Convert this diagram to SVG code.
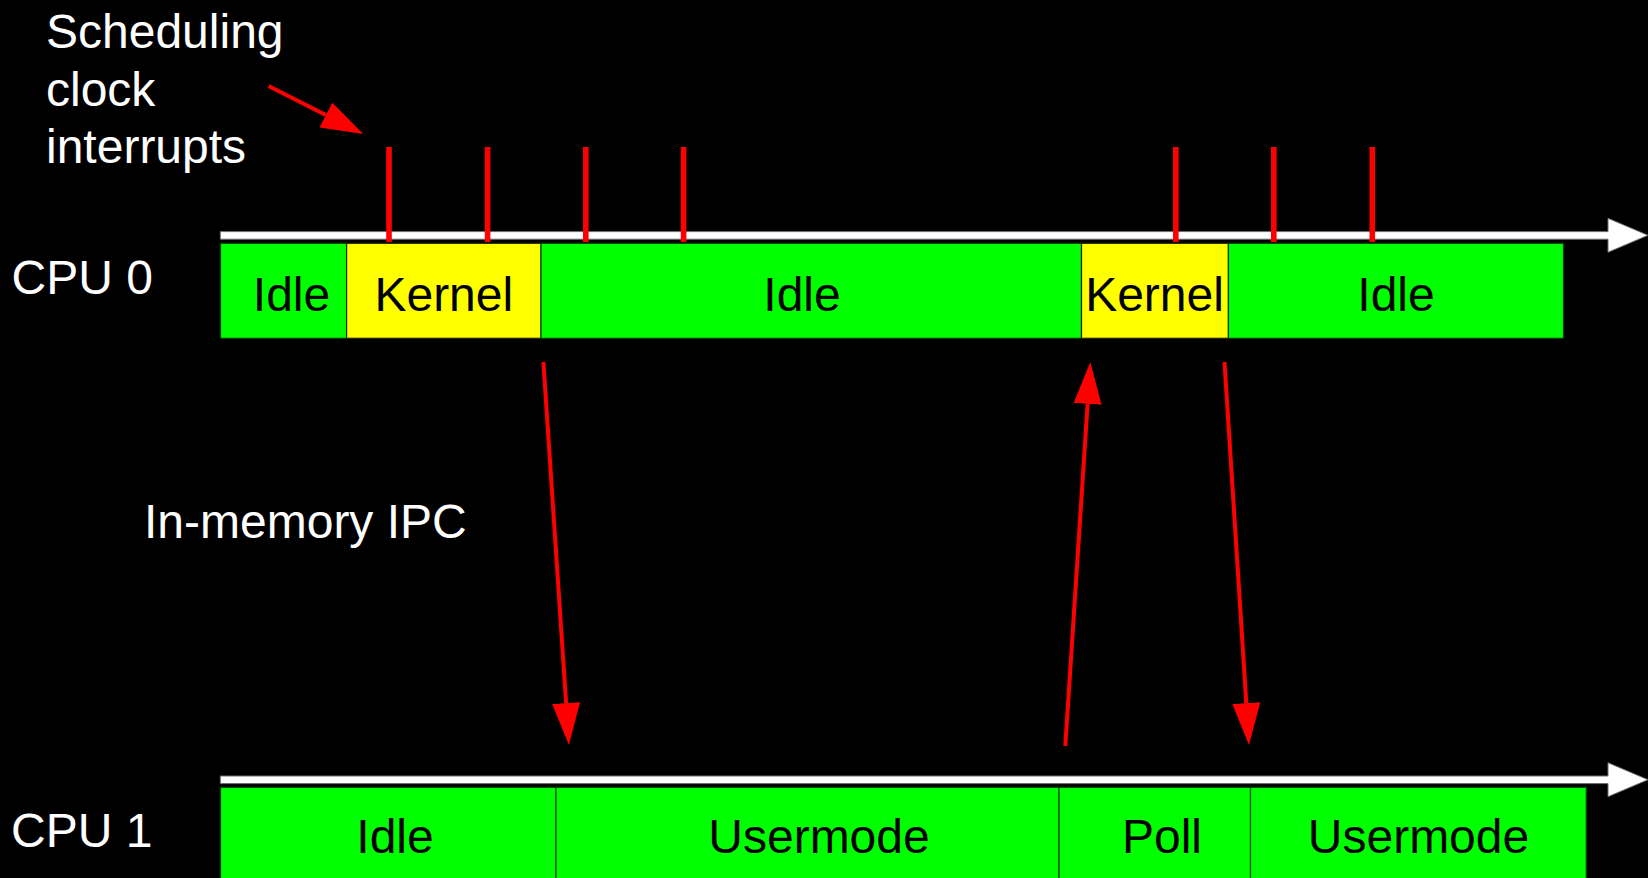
<svg xmlns="http://www.w3.org/2000/svg" width="1648" height="878" viewBox="0 0 1648 878">
  <style>
    text { font-family: "Liberation Sans", Arial, sans-serif; font-size: 48px; }
    .lbl { fill: #ffffff; }
    .seg { fill: #000000; text-anchor: middle; }
    .idle { fill: #00ff00; stroke: #004400; stroke-width: 1.2; }
    .kern { fill: #ffff00; stroke: #222200; stroke-width: 1.2; }
    .axis { fill: #ffffff; stroke: #6e6e6e; stroke-width: 1; }
    .tick { stroke: #ff0000; stroke-width: 5.6; }
    .ipc { stroke: #ff0000; stroke-width: 4; fill: none; marker-end: url(#head); }
  </style>
  <defs>
    <marker id="head" viewBox="0 0 42 28" refX="0" refY="14" markerWidth="42" markerHeight="28" markerUnits="userSpaceOnUse" orient="auto">
      <path d="M0,0 L42,14 L0,28 Z" fill="#ff0000"/>
    </marker>
  </defs>

  <rect width="1648" height="878" fill="#000000"/>

  <!-- labels -->
  <g id="label-sched">
    <text class="lbl" x="46" y="48">Scheduling</text>
    <text class="lbl" x="46" y="105.5">clock</text>
    <text class="lbl" x="46" y="163">interrupts</text>
  </g>
  <g id="label-cpu0"><text class="lbl" x="11.5" y="294">CPU 0</text></g>
  <g id="label-cpu1"><text class="lbl" x="11" y="846.7">CPU 1</text></g>
  <g id="label-ipc"><text class="lbl" x="144" y="538.3">In-memory IPC</text></g>

  <!-- CPU 0 timeline -->
  <g id="cpu0-axis">
    <path class="axis" d="M220.3,231.6 H1608 V218.3 L1648,235.3 L1608,252.3 V239.2 H220.3 Z"/>
  </g>
  <g id="cpu0-idle1"><rect class="idle" x="220.5" y="243.3" width="126.1" height="95"/><text class="seg" x="291.5" y="310.5">Idle</text></g>
  <g id="cpu0-kernel1"><rect class="kern" x="346.6" y="243.3" width="194.4" height="95"/><text class="seg" x="443.8" y="310.5">Kernel</text></g>
  <g id="cpu0-idle2"><rect class="idle" x="541" y="243.3" width="540.5" height="95"/><text class="seg" x="802" y="310.5">Idle</text></g>
  <g id="cpu0-kernel2"><rect class="kern" x="1081.5" y="243.3" width="146.9" height="95"/><text class="seg" x="1154.5" y="310.5">Kernel</text></g>
  <g id="cpu0-idle3"><rect class="idle" x="1228.4" y="243.3" width="335.1" height="95"/><text class="seg" x="1396" y="310.5">Idle</text></g>

  <!-- clock interrupt ticks -->
  <g id="ticks">
    <line class="tick" x1="389" y1="147" x2="389" y2="242"/>
    <line class="tick" x1="487.6" y1="147" x2="487.6" y2="242"/>
    <line class="tick" x1="585.8" y1="147" x2="585.8" y2="242"/>
    <line class="tick" x1="683.6" y1="147" x2="683.6" y2="242"/>
    <line class="tick" x1="1175.8" y1="147" x2="1175.8" y2="242"/>
    <line class="tick" x1="1273.8" y1="147" x2="1273.8" y2="242"/>
    <line class="tick" x1="1372.3" y1="147" x2="1372.3" y2="242"/>
  </g>

  <!-- CPU 1 timeline -->
  <g id="cpu1-axis">
    <path class="axis" d="M220.3,776 H1608 V762.7 L1648,779.7 L1608,796.7 V783.6 H220.3 Z"/>
  </g>
  <g id="cpu1-idle"><rect class="idle" x="220.5" y="787.3" width="335.5" height="95"/><text class="seg" x="395" y="853">Idle</text></g>
  <g id="cpu1-user1"><rect class="idle" x="556" y="787.3" width="503" height="95"/><text class="seg" x="819" y="853">Usermode</text></g>
  <g id="cpu1-poll"><rect class="idle" x="1059" y="787.3" width="191.5" height="95"/><text class="seg" x="1162" y="853">Poll</text></g>
  <g id="cpu1-user2"><rect class="idle" x="1250.5" y="787.3" width="335.8" height="95"/><text class="seg" x="1418.5" y="853">Usermode</text></g>

  <!-- connectors -->
  <g id="connectors">
    <line class="ipc" x1="268.6" y1="86" x2="325.8" y2="115"/>
    <line class="ipc" x1="543.4" y1="362" x2="566.1" y2="703.1"/>
    <line class="ipc" x1="1065.3" y1="746" x2="1087.6" y2="403.9"/>
    <line class="ipc" x1="1224.5" y1="362" x2="1246.3" y2="703.1"/>
  </g>
</svg>
